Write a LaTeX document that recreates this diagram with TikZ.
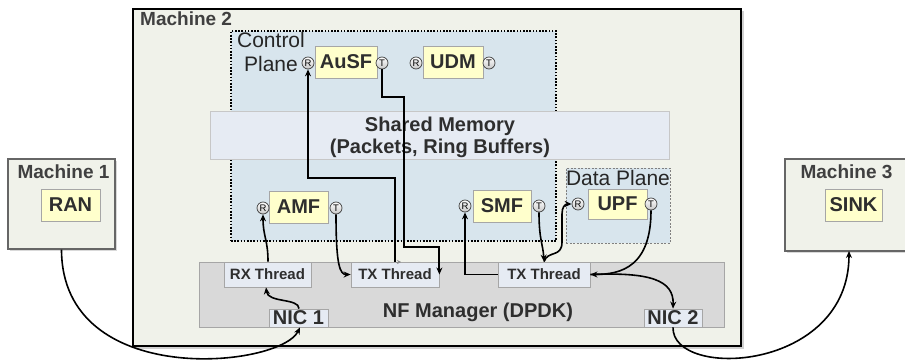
\documentclass[tikz,border=0pt]{standalone}
\usepackage{fontspec}
\setmainfont{Liberation Sans}
\usetikzlibrary{arrows.meta}

\definecolor{machfill}{HTML}{F0F2EA}
\definecolor{nffill}{HTML}{FFFFCC}
\definecolor{planefill}{HTML}{D8E5ED}
\definecolor{memfill}{HTML}{E6EBF3}
\definecolor{mgrfill}{HTML}{D9D9D9}
\definecolor{ink}{HTML}{2E2E2E}
\definecolor{edgegray}{HTML}{A6A6A6}

\tikzset{
  sz/.style={font=\fontsize{#1}{#1}\selectfont\bfseries},
  machbox/.style={draw=black!60, line width=1.3pt, fill=machfill},
  nfbox/.style={draw=edgegray, line width=0.8pt, fill=nffill, inner sep=0pt,
    text=ink, sz=20},
  thrbox/.style={draw=edgegray, line width=0.8pt, fill=memfill, inner sep=0pt,
    text=ink, sz=15},
  nicbox/.style={draw=edgegray, line width=0.8pt, fill=memfill, inner sep=0pt,
    text=ink, sz=20},
  rtport/.style={circle, draw=black!75, line width=0.7pt, inner sep=0pt,
    minimum size=12pt, top color=white, bottom color=black!22,
    font=\fontsize{9.5}{9.5}\selectfont, text=black},
  conn/.style={draw=black, line width=1.6pt, -{Stealth[length=7pt,width=6pt]}},
  lbl/.style={inner sep=0pt, text=ink},
  planelbl/.style={inner sep=0pt, text=black!85, font=\fontsize{21}{21}\selectfont},
}

\begin{document}
\begin{tikzpicture}[x=1pt, y=-1pt]
\useasboundingbox (0,0) rectangle (905,361);
\clip (0,0) rectangle (905,361);

% ---------- machine 2 ----------
\fill[black!18] (135,11) rectangle (743.5,348.5);
\node[draw=black, line width=2pt, fill=machfill, minimum width=608pt,
  minimum height=337pt, inner sep=0pt] (m2) at (437,177.5) {};
\node[lbl, sz=19, text=black!75, anchor=base west] (m2lbl) at (140,26) {Machine 2};

% control plane and data plane
\node[draw=black, line width=1.6pt, dash pattern=on 1.6pt off 1.6pt,
  fill=planefill, minimum width=325pt, minimum height=210pt, inner sep=0pt]
  (cp) at (393.5,136) {};
\node[planelbl, anchor=base] (cplbl1) at (271,48) {Control};
\node[planelbl, anchor=base] (cplbl2) at (271,71) {Plane};

\node[draw=black!50, line width=0.8pt, dash pattern=on 2pt off 1.5pt,
  fill=planefill, minimum width=104pt, minimum height=75pt, inner sep=0pt]
  (dp) at (618,205.5) {};
\node[planelbl, anchor=base] (dplbl) at (618,185) {Data Plane};

% shared memory
\node[draw=black!22, line width=1pt, fill=memfill, minimum width=459pt,
  minimum height=48pt, inner sep=0pt] (shm) at (439.5,135) {};
\node[lbl, sz=20, anchor=base] (shm1) at (440,131) {Shared Memory};
\node[lbl, sz=20, anchor=base] (shm2) at (440,153) {(Packets, Ring Buffers)};

% NF manager
\node[draw=edgegray, line width=0.8pt, fill=mgrfill, minimum width=525pt,
  minimum height=65pt, inner sep=0pt] (mgr) at (461.5,294.5) {};
\node[lbl, sz=20, anchor=base] (mgrlbl) at (478,317) {NF Manager (DPDK)};

\node[thrbox, minimum width=87pt, minimum height=25pt] (rx) at (267.5,274.5) {RX Thread};
\node[thrbox, minimum width=88pt, minimum height=25pt] (tx1) at (395,274.5) {TX Thread};
\node[thrbox, minimum width=92pt, minimum height=25pt] (tx2) at (544,274.5) {TX Thread};
\node[nicbox, minimum width=59pt, minimum height=18pt] (nic1) at (298.5,318) {NIC 1};
\node[nicbox, minimum width=58pt, minimum height=18pt] (nic2) at (673,318) {NIC 2};

% network functions
\node[nfbox, minimum width=62pt, minimum height=32pt] (ausf) at (346,62) {AuSF};
\node[nfbox, minimum width=60pt, minimum height=32pt] (udm) at (453,62) {UDM};
\node[nfbox, minimum width=59pt, minimum height=32pt] (amf) at (298.5,207) {AMF};
\node[nfbox, minimum width=58pt, minimum height=32pt] (smf) at (502,206) {SMF};
\node[nfbox, minimum width=59pt, minimum height=30pt] (upf) at (617.5,204) {UPF};

% receive / transmit ports
\node[rtport] (ausfR) at (308,63) {R};
\node[rtport] (ausfT) at (382,63) {T};
\node[rtport] (udmR) at (416,63) {R};
\node[rtport] (udmT) at (489,63) {T};
\node[rtport] (amfR) at (263,208) {R};
\node[rtport] (amfT) at (336,208) {T};
\node[rtport] (smfR) at (465,206) {R};
\node[rtport] (smfT) at (539,206) {T};
\node[rtport] (upfR) at (578,204) {R};
\node[rtport] (upfT) at (651,204) {T};

% ---------- machines 1 and 3 ----------
\fill[black!15] (10,161) rectangle (117,251);
\node[machbox, minimum width=107pt, minimum height=90pt, inner sep=0pt] (m1) at (61.5,204) {};
\node[lbl, sz=19, text=black!75, anchor=base] (m1lbl) at (63.5,178) {Machine 1};
\node[nfbox, minimum width=59pt, minimum height=32pt] (ran) at (70.5,205) {RAN};

\fill[black!15] (787,161) rectangle (914,253);
\node[machbox, minimum width=127pt, minimum height=92pt, inner sep=0pt] (m3) at (848.5,205) {};
\node[lbl, sz=19, text=black!75, anchor=base] (m3lbl) at (846.5,178) {Machine 3};
\node[nfbox, minimum width=57pt, minimum height=32pt] (sink) at (853.5,205) {SINK};

% ---------- packet paths ----------
\draw[conn] (m1.south) .. controls (62,390) and (280,368) .. ([xshift=1.5pt]nic1.south);
\draw[conn] ([xshift=0.5pt]nic1.north) .. controls (299,298) and (268,303) .. ([xshift=-1.5pt]rx.south);
\draw[conn] ([xshift=0.5pt]rx.north) .. controls (268,240) and (263,236) .. (amfR.south);
\draw[conn] (amfT.south) .. controls (336,266) and (340,274.5) .. (tx1.west);

\draw[conn, line width=1.9pt] (ausfT.south) |- (404,97) -- (404,247) -| (tx1.east);
\draw[conn, line width=1.9pt] (tx1.north) -- (395,178) -| (ausfR.south);
\draw[black!45, line width=0.6pt, -{Stealth[length=4pt,width=4pt]}] (396,262) -- (401,262);

\draw[conn] (tx2.west) -| (smfR.south);
\draw[conn] (smfT.south) .. controls (539,240) and (543,244) .. (tx2.north);
\draw[conn] (tx2.north) .. controls (548,250) and (562,258) .. (562,242)
  -- (562,214) .. controls (562,207) and (565,204) .. (upfR.west);
\draw[conn] (upfT.south) .. controls (651,266) and (622,274.5) .. (tx2.east);
\draw[conn] (tx2.east) .. controls (650,272) and (674,280) .. (nic2.north);
\draw[conn] (nic2.south) .. controls (672,380) and (849,372) .. (849,251);
\end{tikzpicture}
\end{document}
